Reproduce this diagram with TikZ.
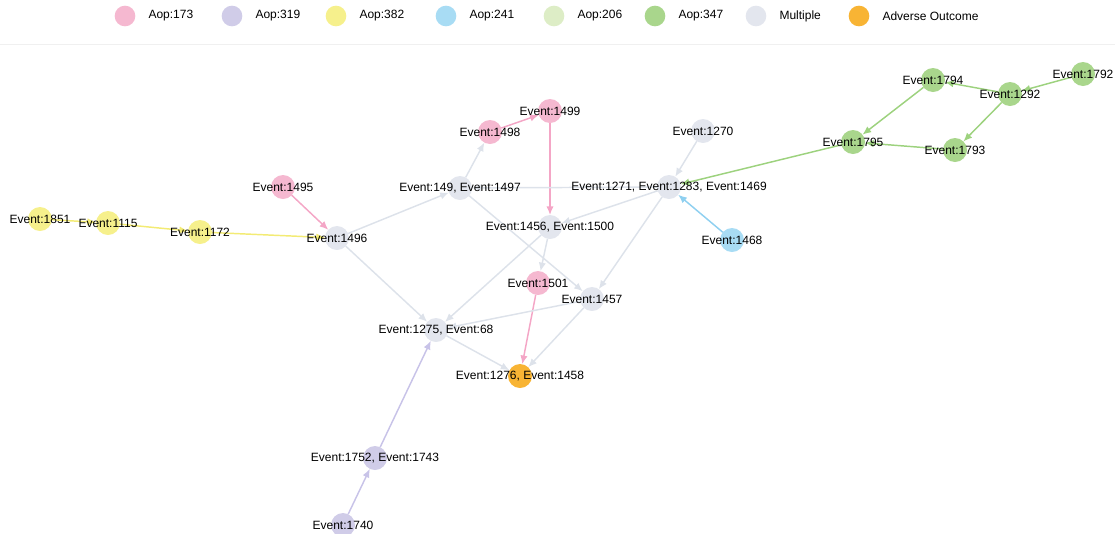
\documentclass[tikz,border=0pt]{standalone}
\usepackage{fontspec}
\setmainfont{Liberation Sans}
\usetikzlibrary{positioning,backgrounds,arrows.meta}
\definecolor{aopa}{HTML}{F5B8D0}
\definecolor{aopb}{HTML}{D0CCE8}
\definecolor{aopc}{HTML}{F6F08C}
\definecolor{aopd}{HTML}{A8DCF4}
\definecolor{aope}{HTML}{DDEDC6}
\definecolor{aopf}{HTML}{A9D68C}
\definecolor{multi}{HTML}{E3E6EE}
\definecolor{adverse}{HTML}{F8B434}
\definecolor{linea}{HTML}{F4A6C6}
\definecolor{lineb}{HTML}{C8C3E8}
\definecolor{linec}{HTML}{F3EB74}
\definecolor{lined}{HTML}{8FD0F0}
\definecolor{linef}{HTML}{9DD27E}
\definecolor{linem}{HTML}{DDE2EA}

\begin{document}
\begin{tikzpicture}[x=0.75pt,y=-0.75pt]
\tikzstyle{main}=[circle, minimum size=18pt, inner sep=0pt, outer sep=0pt]
\tikzstyle{every label}=[font=\fontsize{9}{10}\selectfont, inner sep=0pt]
\tikzstyle{connect}=[-{Latex[length=6.5pt,width=5.5pt]}, line width=1.1pt]
\tikzstyle{key}=[circle, minimum size=15.5pt, inner sep=0pt]
\tikzstyle{keytext}=[font=\fontsize{9}{10}\selectfont, inner sep=0pt, node distance=9.5pt]
\useasboundingbox (0,0) rectangle (1115,533);

  % legend
  \node[key, fill=aopa] (k173) at (125,16) {};
  \node[keytext, right=of k173] (t173) {Aop:173};
  \node[key, fill=aopb] (k319) at (232,16) {};
  \node[keytext, right=of k319] (t319) {Aop:319};
  \node[key, fill=aopc] (k382) at (336,16) {};
  \node[keytext, right=of k382] (t382) {Aop:382};
  \node[key, fill=aopd] (k241) at (446,16) {};
  \node[keytext, right=of k241] (t241) {Aop:241};
  \node[key, fill=aope] (k206) at (554,16) {};
  \node[keytext, right=of k206] (t206) {Aop:206};
  \node[key, fill=aopf] (k347) at (655,16) {};
  \node[keytext, right=of k347] (t347) {Aop:347};
  \node[key, fill=multi] (kmul) at (756,16) {};
  \node[keytext, right=of kmul] (tmul) {Multiple};
  \node[key, fill=adverse] (kadv) at (859,16) {};
  \node[keytext, right=of kadv] (tadv) {Adverse Outcome};

  % events
  \node[main, fill=aopc] (e1851) at (40,219) [label=center:Event:1851] {};
  \node[main, fill=aopc] (e1115) at (108,223) [label=center:Event:1115] {};
  \node[main, fill=aopc] (e1172) at (200,232) [label=center:Event:1172] {};
  \node[main, fill=multi] (e1496) at (337,238) [label=center:Event:1496] {};
  \node[main, fill=aopa] (e1495) at (283,187) [label=center:Event:1495] {};
  \node[main, fill=multi] (e149) at (460,188) [label=center:{Event:149, Event:1497}] {};
  \node[main, fill=aopa] (e1498) at (490,132) [label=center:Event:1498] {};
  \node[main, fill=aopa] (e1499) at (550,111) [label=center:Event:1499] {};
  \node[main, fill=multi] (e1270) at (703,131) [label=center:Event:1270] {};
  \node[main, fill=multi] (e1271) at (669,187) [label=center:{Event:1271, Event:1283, Event:1469}] {};
  \node[main, fill=aopd] (e1468) at (732,240) [label=center:Event:1468] {};
  \node[main, fill=multi] (e1456) at (550,227) [label=center:{Event:1456, Event:1500}] {};
  \node[main, fill=aopa] (e1501) at (538,283) [label=center:Event:1501] {};
  \node[main, fill=multi] (e1457) at (592,299) [label=center:Event:1457] {};
  \node[main, fill=multi] (e1275) at (436,330) [label=center:{Event:1275, Event:68}] {};
  \node[main, fill=adverse] (e1276) at (520,376) [label=center:{Event:1276, Event:1458}] {};
  \node[main, fill=aopb] (e1752) at (375,458) [label=center:{Event:1752, Event:1743}] {};
  \node[main, fill=aopb] (e1740) at (343,525) [label=center:Event:1740] {};
  \node[main, fill=aopf] (e1794) at (933,80) [label=center:Event:1794] {};
  \node[main, fill=aopf] (e1292) at (1010,94) [label=center:Event:1292] {};
  \node[main, fill=aopf] (e1792) at (1083,74) [label=center:Event:1792] {};
  \node[main, fill=aopf] (e1795) at (853,142) [label=center:Event:1795] {};
  \node[main, fill=aopf] (e1793) at (955,150) [label=center:Event:1793] {};

\begin{pgfonlayer}{background}
  \draw[line width=0.6pt, black!6] (0,44) -- (1115,44);
  \path (e1851) edge [connect, linec] (e1115)
        (e1115) edge [connect, linec] (e1172)
        (e1172) edge [connect, linec] (e1496);
  \path (e1495) edge [connect, linea] (e1496)
        (e1498) edge [connect, linea] (e1499)
        (e1499) edge [connect, linea] (e1456)
        (e1501) edge [connect, linea] (e1276);
  \path (e1496) edge [connect, linem] (e149)
        (e1496) edge [connect, linem] (e1275)
        (e149) edge [connect, linem] (e1498)
        (e149) edge [connect, linem] (e1457)
        (e1271) edge [connect, linem] (e149)
        (e1270) edge [connect, linem] (e1271)
        (e1271) edge [connect, linem] (e1456)
        (e1271) edge [connect, linem] (e1457)
        (e1456) edge [connect, linem] (e1501)
        (e1456) edge [connect, linem] (e1275)
        (e1457) edge [connect, linem] (e1275)
        (e1457) edge [connect, linem] (e1276)
        (e1275) edge [connect, linem] (e1276);
  \path (e1795) edge [connect, linef] (e1271)
        (e1792) edge [connect, linef] (e1292)
        (e1292) edge [connect, linef] (e1794)
        (e1292) edge [connect, linef] (e1793)
        (e1794) edge [connect, linef] (e1795)
        (e1793) edge [connect, linef] (e1795);
  \path (e1468) edge [connect, lined] (e1271);
  \path (e1740) edge [connect, lineb] (e1752)
        (e1752) edge [connect, lineb] (e1275);
\end{pgfonlayer}
\end{tikzpicture}
\end{document}
